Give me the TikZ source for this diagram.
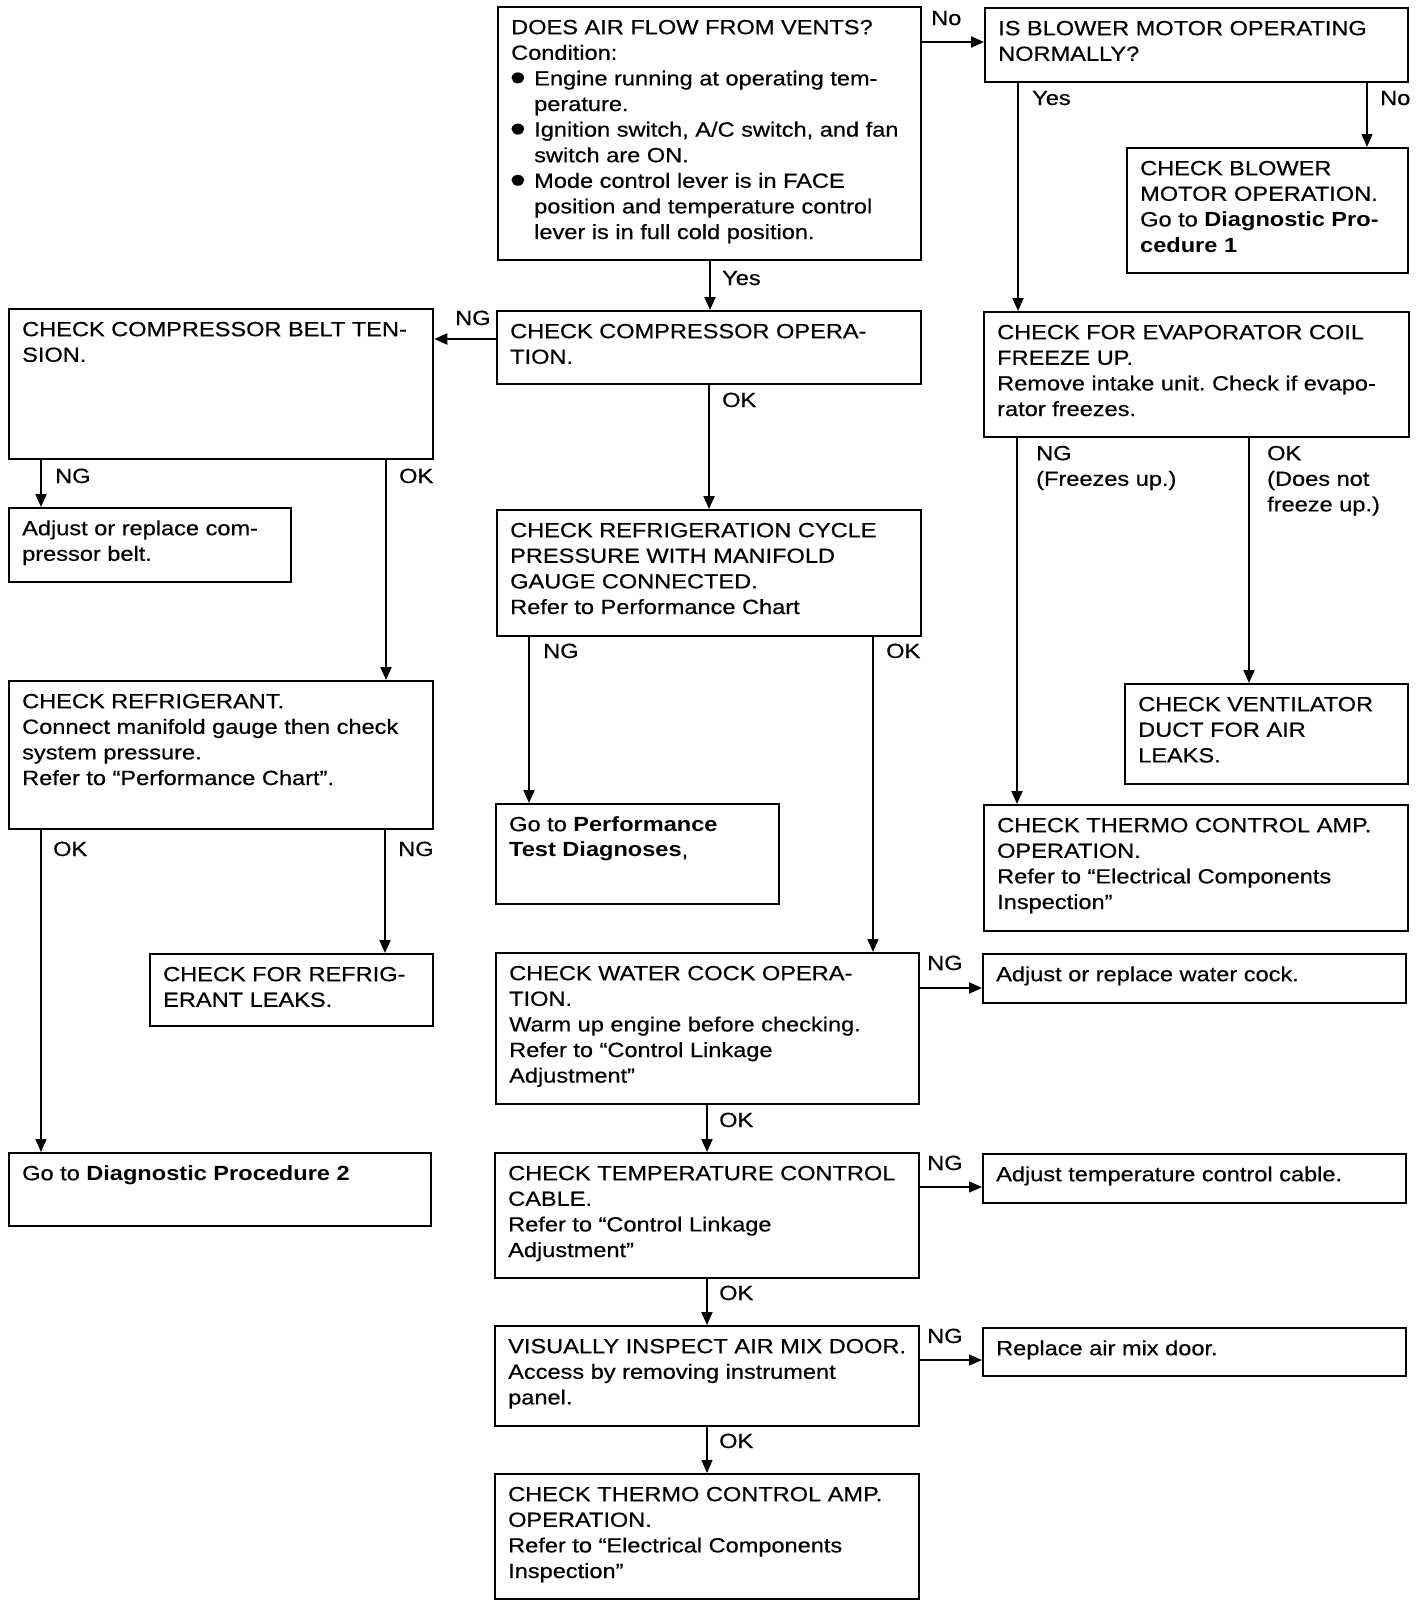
\documentclass[tikz,border=0pt]{standalone}
\usepackage{fontspec}
\setmainfont{Liberation Sans}[FakeStretch=1.15, UprightFeatures={FakeBold=0.5}]
\usetikzlibrary{arrows.meta}
\frenchspacing
\newcommand\fl{\rule{0pt}{16pt}}
\newcommand\mybox[6]{%
  \node[boxs, minimum width=#4pt, minimum height=#5pt, anchor=north west] (#1) at (#2,#3) {};
  \node[txt, anchor=north west] (#1t) at ([shift={(14,12)}]#1.north west) {\fl #6};}
\newcommand\bul{\makebox[23pt][l]{\hspace*{-2pt}\raisebox{0.5pt}{\scalebox{1.22}{●}}}}
\newcommand\ind{\hspace*{23pt}}
\begin{document}
\frenchspacing
\begin{tikzpicture}[x=1pt, y=-1pt,
  boxs/.style={draw, line width=2.3pt, inner sep=0pt},
  txt/.style={inner sep=0pt, align=left, font=\frenchspacing\fontsize{20.5}{25.6}\selectfont},
  lbl/.style={inner sep=0pt, anchor=base west, font=\fontsize{20.5}{25.6}\selectfont},
  arr/.style={line width=2pt, -{Triangle[length=13pt,width=11pt]}},
  arrthin/.style={line width=1.2pt, -{Triangle[length=13pt,width=11pt]}}]
\fill[white] (0,0) rectangle (1424,1606);
\useasboundingbox (0,0) rectangle (1424,1606);

% boxes
\mybox{top}{497}{6}{423}{253}{DOES AIR FLOW FROM VENTS?\\Condition:\\\bul Engine running at operating tem-\\\ind perature.\\\bul Ignition switch, A/C switch, and fan\\\ind switch are ON.\\\bul Mode control lever is in FACE\\\ind position and temperature control\\\ind lever is in full cold position.}
\mybox{blower}{984}{7}{423}{74}{IS BLOWER MOTOR OPERATING\\NORMALLY?}
\mybox{blowerop}{1126}{147}{281}{125}{CHECK BLOWER\\MOTOR OPERATION.\\Go to \textbf{Diagnostic Pro-}\\\textbf{cedure 1}}
\mybox{belt}{8}{308}{424}{150}{CHECK COMPRESSOR BELT TEN-\\SION.}
\mybox{comp}{496}{310}{424}{73}{CHECK COMPRESSOR OPERA-\\TION.}
\mybox{evap}{983}{311}{425}{125}{CHECK FOR EVAPORATOR COIL\\FREEZE UP.\\Remove intake unit. Check if evapo-\\rator freezes.}
\mybox{adjbelt}{8}{507}{282}{74}{Adjust or replace com-\\pressor belt.}
\mybox{refcycle}{496}{509}{424}{126}{CHECK REFRIGERATION CYCLE\\PRESSURE WITH MANIFOLD\\GAUGE CONNECTED.\\Refer to Performance Chart}
\mybox{refrig}{8}{680}{424}{148}{CHECK REFRIGERANT.\\Connect manifold gauge then check\\system pressure.\\Refer to “Performance Chart”.}
\mybox{vent}{1124}{683}{283}{100}{CHECK VENTILATOR\\DUCT FOR AIR\\LEAKS.}
\mybox{perf}{495}{803}{283}{100}{Go to \textbf{Performance}\\\textbf{Test Diagnoses},}
\mybox{thermoR}{983}{804}{424}{126}{CHECK THERMO CONTROL AMP.\\OPERATION.\\Refer to “Electrical Components\\Inspection”}
\mybox{leaks}{149}{953}{283}{72}{CHECK FOR REFRIG-\\ERANT LEAKS.}
\mybox{water}{495}{952}{423}{151}{CHECK WATER COCK OPERA-\\TION.\\Warm up engine before checking.\\Refer to “Control Linkage\\Adjustment”}
\mybox{wateradj}{982}{953}{423}{49}{Adjust or replace water cock.}
\mybox{diag}{8}{1152}{422}{73}{Go to \textbf{Diagnostic Procedure 2}}
\mybox{temp}{494}{1152}{424}{125}{CHECK TEMPERATURE CONTROL\\CABLE.\\Refer to “Control Linkage\\Adjustment”}
\mybox{tempadj}{982}{1153}{423}{49}{Adjust temperature control cable.}
\mybox{airmix}{494}{1325}{424}{100}{VISUALLY INSPECT AIR MIX DOOR.\\Access by removing instrument\\panel.}
\mybox{airmixadj}{982}{1327}{423}{48}{Replace air mix door.}
\mybox{thermo}{494}{1473}{424}{125}{CHECK THERMO CONTROL AMP.\\OPERATION.\\Refer to “Electrical Components\\Inspection”}

% connectors
\draw[arr] (top.east |- 0,42) -- (blower.west |- 0,42);
\draw[arr] (top.south -| 710,0) -- (comp.north -| 710,0);
\draw[arr] (comp.west |- 0,339) -- (belt.east |- 0,339);
\draw[arr] (comp.south -| 709,0) -- (refcycle.north -| 709,0);
\draw[arr] (belt.south -| 41,0) -- (adjbelt.north -| 41,0);
\draw[arr] (belt.south -| 386,0) -- (refrig.north -| 386,0);
\draw[arr] (refcycle.south -| 529,0) -- (perf.north -| 529,0);
\draw[arrthin] (refcycle.south -| 873,0) -- (water.north -| 873,0);
\draw[arrthin] (refrig.south -| 41,0) -- (diag.north -| 41,0);
\draw[arr] (refrig.south -| 385,0) -- (leaks.north -| 385,0);
\draw[arr] (blower.south -| 1018,0) -- (evap.north -| 1018,0);
\draw[arrthin] (blower.south -| 1367,0) -- (blowerop.north -| 1367,0);
\draw[arr] (evap.south -| 1017,0) -- (thermoR.north -| 1017,0);
\draw[arr] (evap.south -| 1249,0) -- (vent.north -| 1249,0);
\draw[arr] (water.east |- 0,988) -- (wateradj.west |- 0,988);
\draw[arr] (water.south -| 707,0) -- (temp.north -| 707,0);
\draw[arrthin] (temp.east |- 0,1187) -- (tempadj.west |- 0,1187);
\draw[arr] (temp.south -| 707,0) -- (airmix.north -| 707,0);
\draw[arrthin] (airmix.east |- 0,1360) -- (airmixadj.west |- 0,1360);
\draw[arrthin] (airmix.south -| 707,0) -- (thermo.north -| 707,0);

% labels
\node[lbl] (l1) at (931,25) {No};
\node[lbl] (l2) at (722,285) {Yes};
\node[lbl] (l3) at (1032,105) {Yes};
\node[lbl] (l4) at (1380,105) {No};
\node[lbl] (l5) at (455,325) {NG};
\node[lbl] (l6) at (722,407) {OK};
\node[lbl] (l7) at (55,483) {NG};
\node[lbl] (l8) at (399,483) {OK};
\node[txt, anchor=north west] (l9) at (1036,444) {\fl NG\\(Freezes up.)};
\node[txt, anchor=north west] (l10) at (1267,444) {\fl OK\\(Does not\\freeze up.)};
\node[lbl] (l11) at (543,658) {NG};
\node[lbl] (l12) at (886,658) {OK};
\node[lbl] (l13) at (53,856) {OK};
\node[lbl] (l14) at (398,856) {NG};
\node[lbl] (l15) at (927,970) {NG};
\node[lbl] (l16) at (719,1127) {OK};
\node[lbl] (l17) at (927,1170) {NG};
\node[lbl] (l18) at (719,1300) {OK};
\node[lbl] (l19) at (927,1343) {NG};
\node[lbl] (l20) at (719,1448) {OK};
\end{tikzpicture}
\end{document}
